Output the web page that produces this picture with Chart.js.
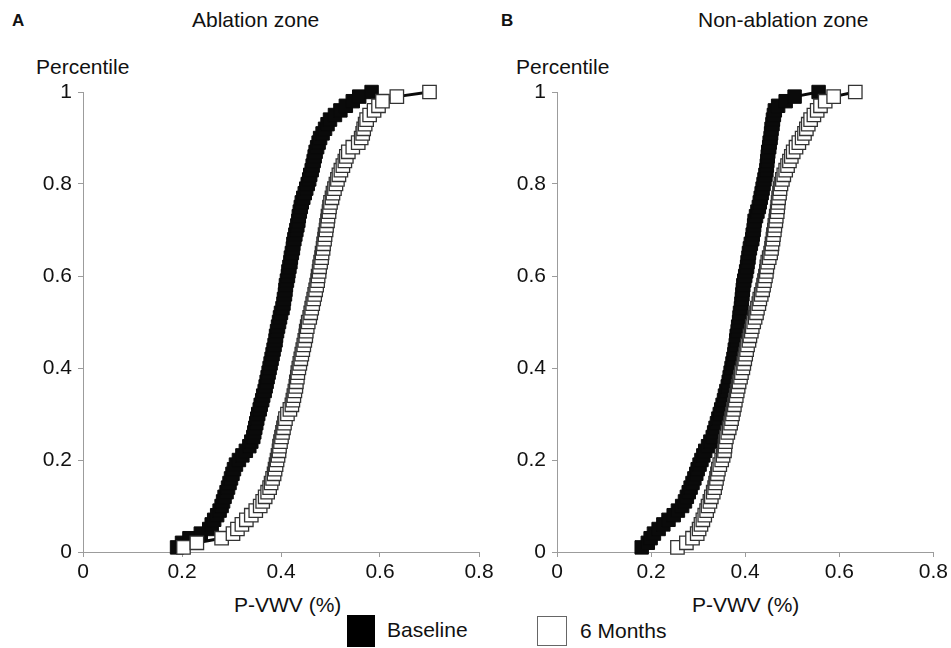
<!DOCTYPE html>
<html>
<head>
<meta charset="utf-8">
<script src="https://cdn.jsdelivr.net/npm/chart.js@4.4.1/dist/chart.umd.min.js"></script>
<style>
  html, body { margin:0; padding:0; background:#fff; }
  body { width:951px; height:648px; position:relative; overflow:hidden; font-family:"Liberation Sans", Arial, sans-serif; color:#111; }
  .t { position:absolute; font-size:21px; line-height:21px; white-space:nowrap; }
  .b { position:absolute; font-size:17px; line-height:17px; font-weight:bold; }
  canvas { position:absolute; }
  .box { position:absolute; box-sizing:border-box; }
</style>
</head>
<body>
<div class="b" style="left:12px;top:12px;">A</div>
<div class="t" style="left:192px;top:9px;">Ablation zone</div>
<div class="b" style="left:501px;top:12px;">B</div>
<div class="t" style="left:698px;top:9px;">Non-ablation zone</div>
<div class="t" style="left:36px;top:56px;">Percentile</div>
<div class="t" style="left:516px;top:56px;">Percentile</div>
<div class="t" style="left:234px;top:594px;">P-VWV (%)</div>
<div class="t" style="left:692px;top:594px;">P-VWV (%)</div>
<div class="box" style="left:347px;top:615px;width:28px;height:32px;background:#000;"></div>
<div class="t" style="left:387px;top:619px;">Baseline</div>
<div class="box" style="left:537px;top:616px;width:30px;height:30px;background:#fff;border:1.5px solid #666;"></div>
<div class="t" style="left:580px;top:620px;">6 Months</div>

<canvas id="cA" width="500" height="530" style="left:0px;top:70px;width:500px;height:530px;"></canvas>
<canvas id="cB" width="471" height="530" style="left:480px;top:70px;width:471px;height:530px;"></canvas>

<script>
// Percentile levels (y values) shared by all series
const percentiles = [
  0.01,0.02,0.03,0.04,0.05,0.06,0.07,0.08,0.09,0.10,
  0.11,0.12,0.13,0.14,0.15,0.16,0.17,0.18,0.19,0.20,
  0.21,0.22,0.23,0.24,0.25,0.26,0.27,0.28,0.29,0.30,
  0.31,0.32,0.33,0.34,0.35,0.36,0.37,0.38,0.39,0.40,
  0.41,0.42,0.43,0.44,0.45,0.46,0.47,0.48,0.49,0.50,
  0.51,0.52,0.53,0.54,0.55,0.56,0.57,0.58,0.59,0.60,
  0.61,0.62,0.63,0.64,0.65,0.66,0.67,0.68,0.69,0.70,
  0.71,0.72,0.73,0.74,0.75,0.76,0.77,0.78,0.79,0.80,
  0.81,0.82,0.83,0.84,0.85,0.86,0.87,0.88,0.89,0.90,
  0.91,0.92,0.93,0.94,0.95,0.96,0.97,0.98,0.99,1.00
];

// P-VWV (%) values, Ablation zone
const ablationBaseline = [
  0.190,0.200,0.215,0.238,0.255,0.260,0.265,0.271,0.276,0.280,
  0.283,0.286,0.290,0.293,0.296,0.299,0.302,0.305,0.309,0.315,
  0.322,0.329,0.336,0.340,0.344,0.346,0.348,0.350,0.352,0.354,
  0.357,0.359,0.362,0.364,0.367,0.369,0.371,0.373,0.375,0.377,
  0.379,0.381,0.383,0.385,0.387,0.389,0.390,0.392,0.394,0.396,
  0.398,0.400,0.403,0.405,0.406,0.408,0.409,0.410,0.412,0.414,
  0.415,0.417,0.419,0.420,0.422,0.424,0.425,0.427,0.429,0.431,
  0.433,0.435,0.436,0.438,0.440,0.442,0.445,0.448,0.451,0.454,
  0.457,0.459,0.462,0.464,0.466,0.468,0.470,0.473,0.476,0.479,
  0.484,0.489,0.494,0.499,0.509,0.520,0.531,0.545,0.558,0.583
];
const ablation6Months = [
  0.203,0.230,0.280,0.303,0.312,0.321,0.330,0.340,0.349,0.358,
  0.363,0.368,0.373,0.377,0.380,0.383,0.386,0.388,0.390,0.392,
  0.394,0.396,0.397,0.399,0.401,0.403,0.405,0.407,0.409,0.413,
  0.418,0.422,0.424,0.426,0.428,0.430,0.431,0.433,0.434,0.436,
  0.438,0.440,0.442,0.444,0.446,0.448,0.450,0.451,0.453,0.455,
  0.458,0.460,0.462,0.464,0.466,0.468,0.470,0.472,0.474,0.475,
  0.477,0.478,0.480,0.482,0.483,0.485,0.486,0.488,0.489,0.491,
  0.492,0.494,0.495,0.497,0.498,0.500,0.503,0.505,0.508,0.511,
  0.514,0.517,0.521,0.525,0.529,0.532,0.536,0.545,0.556,0.562,
  0.565,0.567,0.570,0.573,0.579,0.588,0.597,0.605,0.634,0.700
];

// P-VWV (%) values, Non-ablation zone
const nonAblationBaseline = [
  0.180,0.193,0.199,0.206,0.216,0.226,0.237,0.248,0.257,0.266,
  0.272,0.276,0.280,0.284,0.288,0.292,0.296,0.299,0.303,0.307,
  0.311,0.315,0.321,0.326,0.331,0.334,0.337,0.340,0.343,0.346,
  0.349,0.352,0.355,0.357,0.360,0.363,0.365,0.367,0.369,0.371,
  0.373,0.375,0.377,0.378,0.380,0.381,0.382,0.384,0.385,0.387,
  0.388,0.389,0.391,0.392,0.393,0.394,0.395,0.396,0.398,0.400,
  0.402,0.404,0.405,0.407,0.408,0.410,0.412,0.415,0.416,0.418,
  0.419,0.420,0.423,0.426,0.429,0.431,0.433,0.435,0.437,0.439,
  0.441,0.443,0.445,0.446,0.447,0.448,0.449,0.451,0.452,0.454,
  0.455,0.456,0.458,0.459,0.461,0.463,0.470,0.486,0.505,0.556
];
const nonAblation6Months = [
  0.256,0.275,0.288,0.298,0.302,0.306,0.310,0.314,0.318,0.321,
  0.325,0.328,0.332,0.335,0.337,0.339,0.341,0.343,0.346,0.350,
  0.353,0.356,0.357,0.358,0.360,0.363,0.366,0.369,0.371,0.373,
  0.375,0.377,0.379,0.381,0.383,0.385,0.387,0.390,0.392,0.395,
  0.397,0.399,0.401,0.403,0.405,0.408,0.410,0.413,0.415,0.418,
  0.421,0.424,0.426,0.429,0.431,0.434,0.437,0.439,0.441,0.443,
  0.445,0.446,0.448,0.451,0.454,0.456,0.457,0.459,0.460,0.462,
  0.463,0.465,0.466,0.468,0.469,0.470,0.471,0.473,0.474,0.476,
  0.479,0.482,0.486,0.490,0.494,0.498,0.502,0.508,0.514,0.521,
  0.526,0.530,0.534,0.539,0.546,0.553,0.560,0.570,0.588,0.634
];

const xTicks = [0, 0.2, 0.4, 0.6, 0.8];
const yTicks = [0, 0.2, 0.4, 0.6, 0.8, 1];
const seriesNames = ["Baseline", "6 Months"];

Chart.defaults.font.family = '"Liberation Sans", Arial, sans-serif';
Chart.defaults.font.size = 21;
Chart.defaults.color = '#111';

function pts(xs) { return xs.map((v, i) => ({ x: v, y: percentiles[i] })); }

function makeChart(id, baseline, sixMonths, yWidth, padRight) {
  const axisColor = '#9c9c9c';
  new Chart(document.getElementById(id), {
    type: 'scatter',
    data: {
      datasets: [
        {
          label: seriesNames[0], data: pts(baseline), showLine: true, order: 1,
          borderColor: '#0a0a0a', borderWidth: 3,
          pointStyle: 'rect', pointRadius: 9.5, pointBackgroundColor: '#0a0a0a',
          pointBorderColor: '#0a0a0a', pointBorderWidth: 1, clip: false
        },
        {
          label: seriesNames[1], data: pts(sixMonths), showLine: true, order: 0,
          borderColor: '#0a0a0a', borderWidth: 3,
          pointStyle: 'rect', pointRadius: 9.5, pointBackgroundColor: '#ffffff',
          pointBorderColor: '#333333', pointBorderWidth: 1.3, clip: false
        }
      ]
    },
    options: {
      responsive: false, animation: false,
      layout: { padding: { left: 0, top: 22, right: padRight, bottom: 8 } },
      plugins: { legend: { display: false }, tooltip: { enabled: false } },
      scales: {
        x: {
          type: 'linear', min: xTicks[0], max: xTicks[xTicks.length - 1],
          afterFit: s => { s.height = 40; },
          afterBuildTicks: s => { s.ticks = xTicks.map(v => ({ value: v })); },
          ticks: { padding: 3, color: '#111', callback: v => String(v) },
          grid: { drawOnChartArea: false, drawTicks: true, tickLength: 5, color: axisColor },
          border: { display: true, color: axisColor, width: 1 }
        },
        y: {
          type: 'linear', min: yTicks[0], max: yTicks[yTicks.length - 1],
          afterFit: s => { s.width = yWidth; },
          afterBuildTicks: s => { s.ticks = yTicks.map(v => ({ value: v })); },
          ticks: { padding: 6, color: '#111', callback: v => String(v) },
          grid: { drawOnChartArea: false, drawTicks: true, tickLength: 5, color: axisColor },
          border: { display: true, color: axisColor, width: 1 }
        }
      }
    }
  });
}

makeChart('cA', ablationBaseline, ablation6Months, 83, 21);
makeChart('cB', nonAblationBaseline, nonAblation6Months, 77, 16);
</script>
</body>
</html>
